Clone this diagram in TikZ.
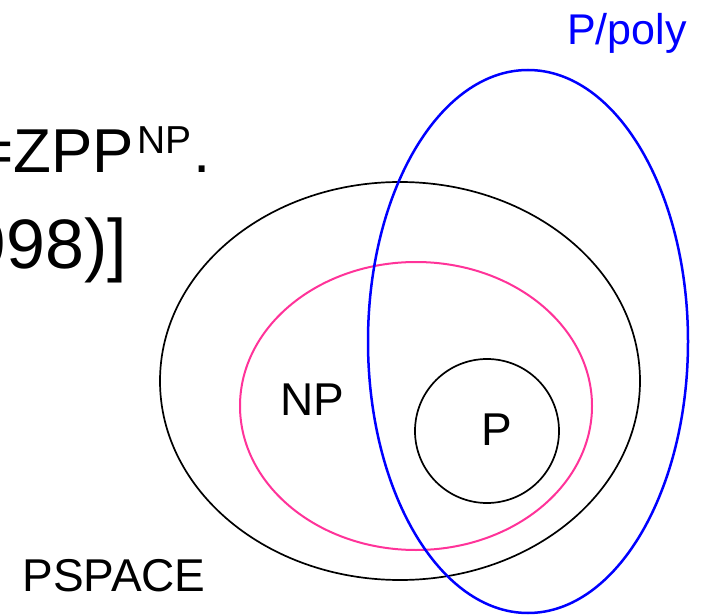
\documentclass[tikz,border=0pt]{standalone}
\usepackage{fontspec}
\setmainfont{Liberation Sans}
\definecolor{npink}{HTML}{FF3399}
\begin{document}
\begin{tikzpicture}[x=1pt,y=-1pt,
  lbl/.style={inner sep=0pt,font=\fontsize{46}{46}\selectfont},
  cls/.style={line width=1.7pt}]
\useasboundingbox (0,0) rectangle (710,615);
\clip (0,0) rectangle (710,615);
% classes
\draw[cls](400,381) ellipse [x radius=240, y radius=199];
\draw[cls,npink,line width=2pt](416,406) ellipse [x radius=176, y radius=144];
\draw[cls](487,431) circle [radius=72];
\draw[cls,blue,line width=2.5pt](528,341.5) ellipse [x radius=160, y radius=271.5];
% labels
\node[lbl](NP) at (312,400){NP};
\node[lbl](P) at (497,430){P};
\node[lbl](PSPACE) at (114,575.5){PSPACE};
\node[lbl,blue,font=\fontsize{43}{43}\selectfont,anchor=base](Ppoly) at (627,45){P/poly};
% cut-off text on the left
\node[lbl,font=\fontsize{62}{62}\selectfont,anchor=base west](zpp) at (-22.7,173)
  {=ZPP\kern3pt\raisebox{20pt}{\fontsize{39}{39}\selectfont NP}\kern2pt.};
\node[lbl,font=\fontsize{70}{70}\selectfont,anchor=base east](yr) at (127,268){998)]};
\end{tikzpicture}
\end{document}
